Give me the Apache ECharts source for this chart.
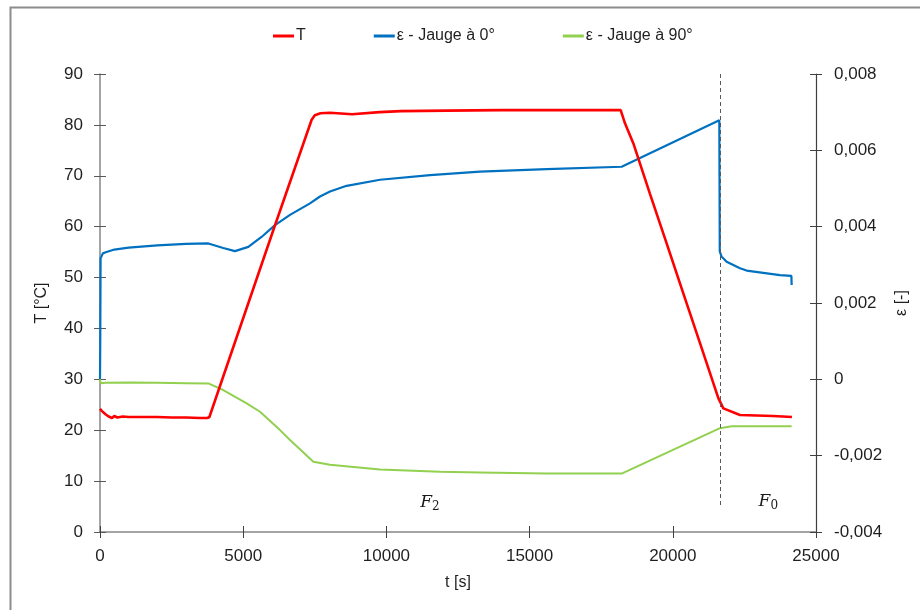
<!DOCTYPE html>
<html>
<head>
<meta charset="utf-8">
<script src="https://cdn.jsdelivr.net/npm/echarts@6/dist/echarts.min.js"></script>
<style>html,body{margin:0;padding:0;background:#fff;}#c{width:920px;height:610px;}</style>
</head>
<body>
<div id="c"></div>
<script>
// ---- Data ----
var seriesNames = ['T', 'ε - Jauge à 0°', 'ε - Jauge à 90°'];

// Temperature T [°C] (left axis)
var T_time = [0, 60, 120, 180, 240, 300, 360, 420, 500, 600, 800, 1000, 1500, 2000, 2500, 3000, 3500, 3750, 3820, 4300, 6050, 7390, 7500, 7700, 8030, 8800, 9760, 10500, 12100, 14000, 16000, 17890, 18180, 18330, 18620, 19200, 19785, 20367, 20950, 21590, 21764, 22346, 23500, 24160];
var T_val  = [24.2, 23.8, 24.0, 23.2, 23.4, 22.7, 22.9, 22.4, 22.8, 22.5, 22.7, 22.6, 22.6, 22.6, 22.5, 22.5, 22.4, 22.4, 22.6, 30.5, 59.3, 81.0, 81.9, 82.3, 82.4, 82.1, 82.5, 82.7, 82.8, 82.9, 82.9, 82.9, 82.9, 80.3, 76.4, 66.5, 56.7, 46.9, 37.1, 26.3, 24.3, 23.0, 22.8, 22.6];

// Strain, gauge at 0° (right axis)
var E0_time = [0, 10, 20, 40, 100, 200, 500, 1000, 2000, 3000, 3783, 4303, 4712, 5180, 5640, 6110, 6634, 7332, 7682, 8030, 8610, 9777, 11522, 13268, 15596, 18214, 18273, 21624, 21640, 21700, 21880, 22346, 22577, 23740, 24140, 24150];
var E0_val  = [0.0000, 0.0011, 0.00317, 0.0032, 0.0033, 0.00333, 0.0034, 0.00345, 0.00351, 0.00355, 0.00356, 0.00344, 0.00336, 0.00347, 0.00373, 0.00404, 0.00431, 0.00461, 0.00479, 0.00492, 0.00507, 0.00523, 0.00535, 0.00544, 0.00551, 0.00557, 0.00558, 0.00679, 0.00335, 0.00322, 0.00308, 0.00291, 0.00285, 0.00273, 0.00271, 0.00247];

// Strain, gauge at 90° (right axis)
var E90_time = [0, 30, 200, 1000, 2000, 3000, 3783, 4303, 5122, 5587, 6285, 6634, 7450, 8030, 9777, 11870, 13268, 15596, 18214, 21648, 22054, 24150];
var E90_val  = [0.0000, -0.0001, -0.00009, -0.00008, -0.00009, -0.0001, -0.000107, -0.00028, -0.00063, -0.00085, -0.00133, -0.00159, -0.00216, -0.00224, -0.00236, -0.00242, -0.00244, -0.00247, -0.00247, -0.00128, -0.00123, -0.00123];

// Vertical separation and phase annotations
var separationTime = 21640;
var separationFromT = 90, separationToT = 5;
var phaseLabels = [
  {letter: 'F', sub: '2', t: 11522, T: 5.8},
  {letter: 'F', sub: '0', t: 23335, T: 5.9}
];

function zip(a, b) { return a.map(function (x, i) { return [x, b[i]]; }); }

var FONT = 'Liberation Sans';
var TXT = '#1f1f1f';
var TICKLBL = {fontFamily: FONT, fontSize: 17, color: TXT};
var NAMELBL = {fontFamily: FONT, fontSize: 16, color: TXT};

function epsFmt(v) {
  if (Math.abs(v) < 1e-12) return '0';
  return v.toFixed(3).replace('.', ',');
}
function plainFmt(v) { return String(Math.round(v)); }

var chart = echarts.init(document.getElementById('c'), null, {renderer: 'canvas'});
var option = {
  animation: false,
  backgroundColor: '#fff',
  graphic: [{
    type: 'rect', left: 8, top: 5,
    shape: {width: 930, height: 640},
    style: {fill: 'none', stroke: '#8c8c8c', lineWidth: 2}
  }],
  legend: {
    data: seriesNames,
    left: 268, top: 23,
    icon: 'rect', itemWidth: 21, itemHeight: 3, itemGap: 68,
    textStyle: {fontFamily: FONT, fontSize: 16, color: TXT, padding: [0, 0, 0, -3]}
  },
  grid: {left: 100, right: 104, top: 74, bottom: 78},
  xAxis: [{
    type: 'value', min: 0, max: 25000, interval: 5000, position: 'bottom',
    name: 't [s]', nameLocation: 'middle', nameGap: 43,
    nameTextStyle: NAMELBL,
    axisLine: {show: true, onZero: false, lineStyle: {color: '#868686', width: 1.5}},
    axisTick: {show: true, inside: false, length: 6, lineStyle: {color: '#404040'}},
    axisLabel: Object.assign({margin: 16, formatter: plainFmt}, TICKLBL),
    splitLine: {show: false}
  }, {
    type: 'value', min: 0, max: 25000, interval: 5000, position: 'bottom',
    axisLine: {show: false, onZero: false},
    axisTick: {show: true, inside: true, length: 6, lineStyle: {color: '#404040'}},
    axisLabel: {show: false}, splitLine: {show: false}
  }],
  yAxis: [{
    type: 'value', min: 0, max: 90, interval: 10, position: 'left',
    name: 'T [°C]', nameLocation: 'middle', nameGap: 50, nameRotate: 90,
    nameTextStyle: NAMELBL,
    axisLine: {show: true, onZero: false, lineStyle: {color: '#868686', width: 1.5}},
    axisTick: {show: true, inside: false, length: 6, lineStyle: {color: '#595959'}},
    axisLabel: Object.assign({margin: 17}, TICKLBL),
    splitLine: {show: false}
  }, {
    type: 'value', min: -0.004, max: 0.008, interval: 0.002, position: 'right',
    name: 'ε [-]', nameLocation: 'middle', nameGap: 74, nameRotate: 90,
    nameTextStyle: NAMELBL,
    axisLine: {show: true, onZero: false, lineStyle: {color: '#404040', width: 1.2}},
    axisTick: {show: true, inside: false, length: 6, lineStyle: {color: '#404040'}},
    axisLabel: Object.assign({margin: 18, formatter: epsFmt}, TICKLBL),
    splitLine: {show: false}
  }, {
    type: 'value', min: 0, max: 90, interval: 10, position: 'left',
    axisLine: {show: false, onZero: false},
    axisTick: {show: true, inside: true, length: 6, lineStyle: {color: '#595959'}},
    axisLabel: {show: false}, splitLine: {show: false}
  }, {
    type: 'value', min: -0.004, max: 0.008, interval: 0.002, position: 'right',
    axisLine: {show: false, onZero: false},
    axisTick: {show: true, inside: true, length: 6, lineStyle: {color: '#404040'}},
    axisLabel: {show: false}, splitLine: {show: false}
  }],
  series: [{
    name: seriesNames[0], type: 'line', xAxisIndex: 0, yAxisIndex: 0,
    data: zip(T_time, T_val), showSymbol: false, symbol: 'none', z: 3,
    lineStyle: {color: '#ff0000', width: 2.6}, itemStyle: {color: '#ff0000'},
    markLine: {
      silent: true, symbol: 'none',
      lineStyle: {color: '#595959', type: [4, 3], width: 1},
      label: {show: false},
      data: [[{coord: [separationTime, separationFromT]}, {coord: [separationTime, separationToT]}]]
    },
    markPoint: {
      symbol: 'circle', symbolSize: 0, silent: true,
      label: {
        show: true, position: 'inside',
        formatter: function (p) { return '{f|' + p.data.letter + '}{s|' + p.data.sub + '}'; },
        rich: {
          f: {fontFamily: 'DejaVu Serif', fontStyle: 'italic', fontSize: 17, color: '#1a1a1a'},
          s: {fontFamily: 'DejaVu Serif', fontSize: 12, color: '#1a1a1a', padding: [8, 0, 0, 0]}
        }
      },
      data: phaseLabels.map(function (a) { return {coord: [a.t, a.T], letter: a.letter, sub: a.sub}; })
    }
  }, {
    name: seriesNames[1], type: 'line', xAxisIndex: 0, yAxisIndex: 1,
    data: zip(E0_time, E0_val), showSymbol: false, symbol: 'none', z: 2,
    lineStyle: {color: '#0070c0', width: 2.2}, itemStyle: {color: '#0070c0'}
  }, {
    name: seriesNames[2], type: 'line', xAxisIndex: 0, yAxisIndex: 1,
    data: zip(E90_time, E90_val), showSymbol: false, symbol: 'none', z: 2,
    lineStyle: {color: '#92d050', width: 2}, itemStyle: {color: '#92d050'}
  }]
};
chart.setOption(option);
</script>
</body>
</html>
